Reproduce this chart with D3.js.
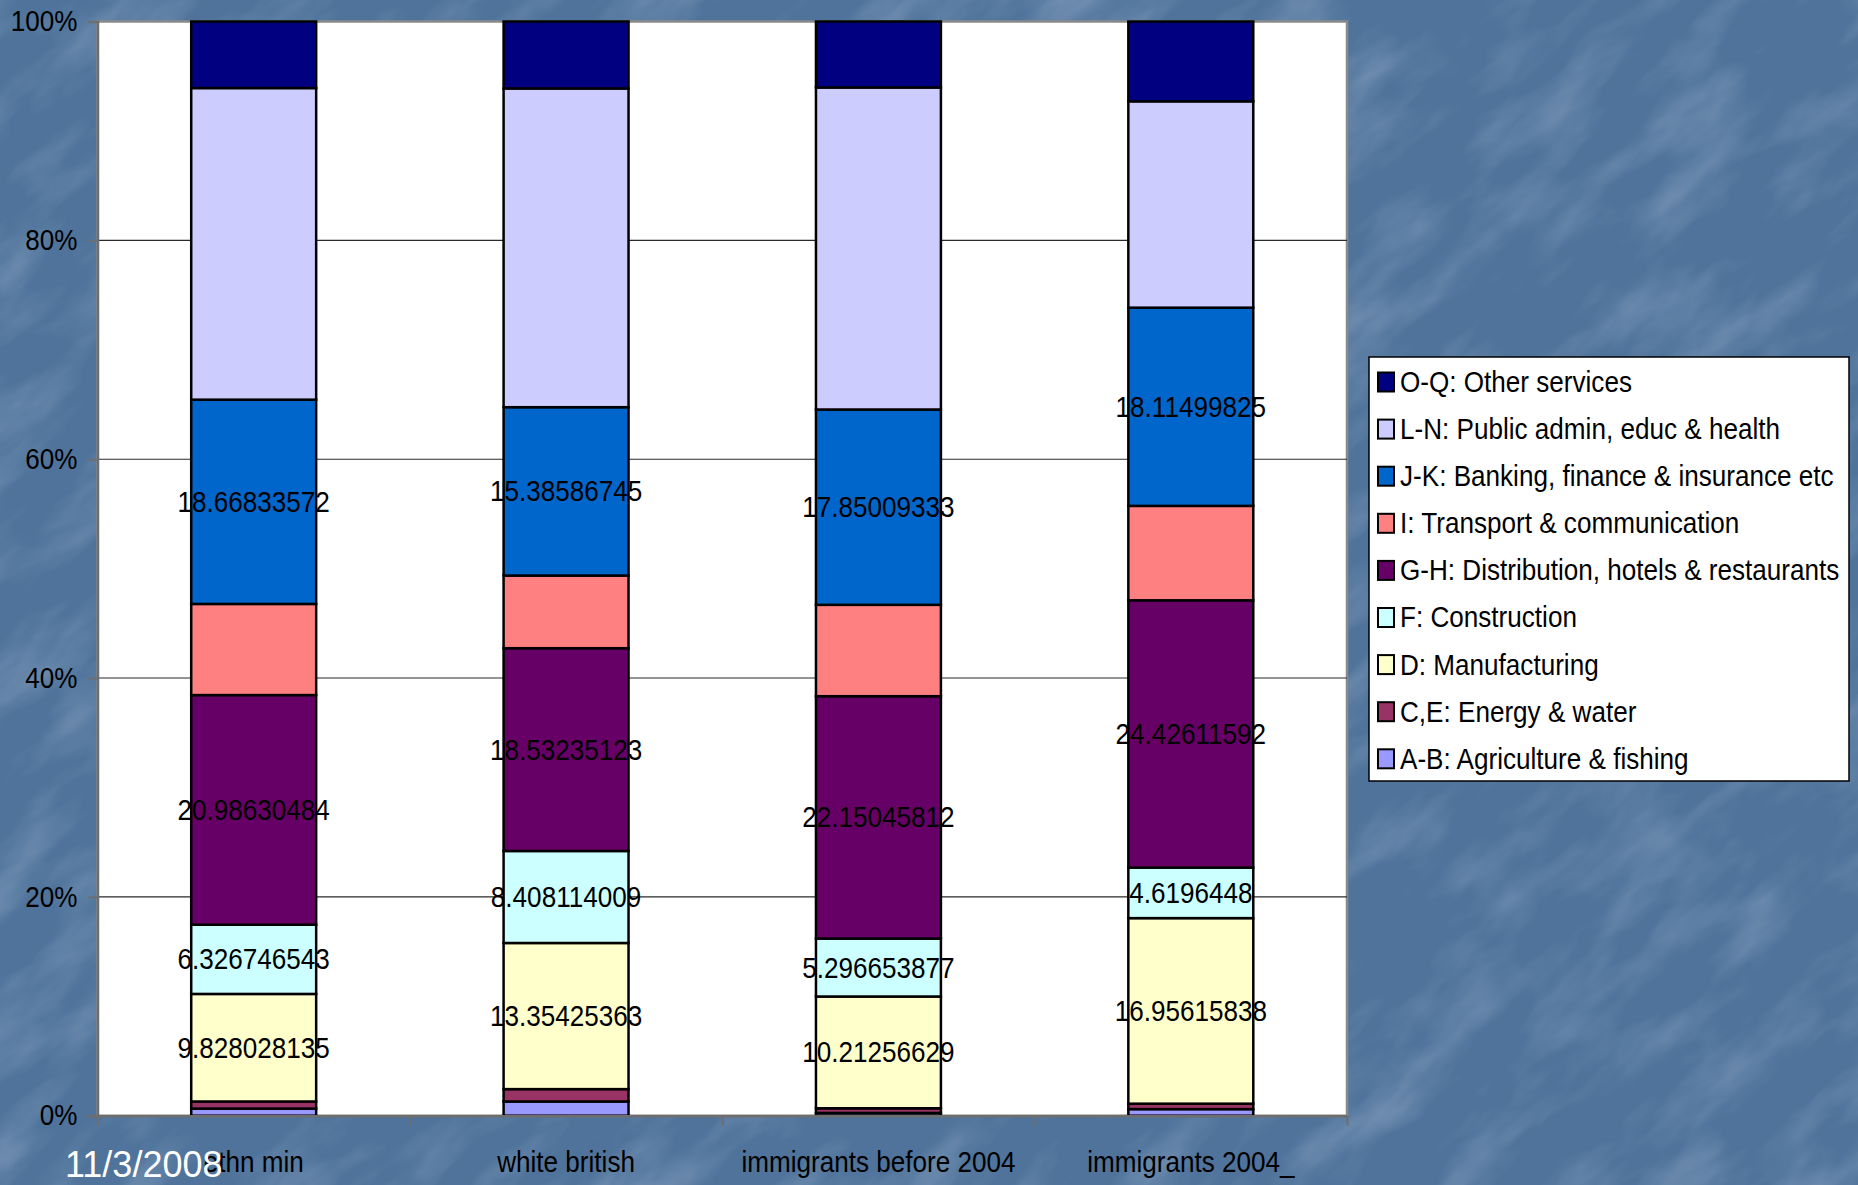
<!DOCTYPE html>
<html>
<head>
<meta charset="utf-8">
<script src="https://cdn.jsdelivr.net/npm/d3@7"></script>
<style>
  html, body { margin: 0; padding: 0; background: #50749c; }
  svg { display: block; }
  text { font-family: "Liberation Sans", Arial, sans-serif; }
</style>
</head>
<body>
<svg id="chart" width="1858" height="1185"></svg>
<script>
// ---- data -------------------------------------------------------------
const categories = ["ethn min", "white british", "immigrants before 2004", "immigrants 2004_"];

const sectors = [
  "A-B: Agriculture & fishing",
  "C,E: Energy & water",
  "D: Manufacturing",
  "F: Construction",
  "G-H: Distribution, hotels & restaurants",
  "I: Transport & communication",
  "J-K: Banking, finance & insurance etc",
  "L-N: Public admin, educ & health",
  "O-Q: Other services"
];

const sectorColors = ["#9999ff", "#993366", "#ffffcc", "#ccffff", "#660066",
                      "#ff8080", "#0066cc", "#ccccff", "#000080"];

// share of employment (%) in each group, one array per sector
const agriculture   = [0.65, 1.30, 0.25, 0.60];
const energy        = [0.65, 1.13, 0.43, 0.50];
const manufacturing = [9.828028135, 13.35425363, 10.21256629, 16.95615838];
const construction  = [6.326746543, 8.408114009, 5.296653877, 4.6196448];
const distribution  = [20.98630484, 18.53235123, 22.15045812, 24.42611592];
const transport     = [8.33, 6.64, 8.35, 8.63];
const banking       = [18.66833572, 15.38586745, 17.85009333, 18.11499825];
const publicAdmin   = [28.48, 29.13, 29.43, 18.86];
const otherServices = [6.08, 6.12, 6.03, 7.29];

const sectorValues = [agriculture, energy, manufacturing, construction, distribution,
                      transport, banking, publicAdmin, otherServices];

// sectors whose segments carry a value label
const labelledSectors = ["D: Manufacturing", "F: Construction",
                         "G-H: Distribution, hotels & restaurants",
                         "J-K: Banking, finance & insurance etc"];

const yTicks = [0, 20, 40, 60, 80, 100];
const dateText = "11/3/2008";

// ---- layout -----------------------------------------------------------
const W = 1858, H = 1185;
const plot = { left: 97.5, right: 1347, top: 21.5, bottom: 1115.7 };
const FONT = 29;      // chart text size
const SX = 0.9;       // chart text is set slightly condensed

const svg = d3.select("#chart");

// textured slide background
const defs = svg.append("defs");
const stone = defs.append("filter").attr("id", "stone")
  .attr("filterUnits", "userSpaceOnUse")
  .attr("x", -900).attr("y", -900).attr("width", 3700).attr("height", 3000);
stone.append("feTurbulence").attr("type", "fractalNoise")
  .attr("baseFrequency", "0.008 0.02").attr("numOctaves", 4).attr("seed", 11)
  .attr("result", "noise");
stone.append("feColorMatrix").attr("in", "noise").attr("type", "matrix")
  .attr("values", "0 0 0 0 0.86  0 0 0 0 0.92  0 0 0 0 1  1.2 0 0 0 -0.52");

svg.append("rect").attr("width", W).attr("height", H).attr("fill", "#4f739b");
svg.append("g")
  .attr("transform", `rotate(-40 ${W / 2} ${H / 2})`)
  .append("rect")
  .attr("x", -900).attr("y", -900).attr("width", 3700).attr("height", 3000)
  .attr("fill", "#fff")
  .attr("filter", "url(#stone)")
  .attr("opacity", 0.36);

// scales
const x = d3.scaleBand()
  .domain(categories)
  .range([plot.left, plot.right])
  .paddingInner(0.6)
  .paddingOuter(0.3);

const y = d3.scaleLinear().domain([0, 100]).range([plot.bottom, plot.top]);

// plot area
svg.append("rect")
  .attr("x", plot.left).attr("y", plot.top)
  .attr("width", plot.right - plot.left).attr("height", plot.bottom - plot.top)
  .attr("fill", "#ffffff")
  .attr("stroke", "#8a8a8a").attr("stroke-width", 2.5);

// gridlines
svg.append("g").selectAll("line")
  .data(yTicks.filter(t => t > 0 && t < 100))
  .join("line")
  .attr("x1", plot.left).attr("x2", plot.right)
  .attr("y1", d => y(d)).attr("y2", d => y(d))
  .attr("stroke", "#2a2a2a").attr("stroke-width", 1.1);

// stacked bars
const rows = categories.map((c, i) => {
  const r = { category: c };
  sectors.forEach((s, k) => { r[s] = sectorValues[k][i]; });
  return r;
});

const stacked = d3.stack().keys(sectors)(rows);
const color = d3.scaleOrdinal().domain(sectors).range(sectorColors);

const layers = svg.append("g").selectAll("g")
  .data(stacked)
  .join("g")
  .attr("fill", d => color(d.key));

layers.selectAll("rect")
  .data(d => d)
  .join("rect")
  .attr("x", d => x(d.data.category))
  .attr("width", x.bandwidth())
  .attr("y", d => y(d[1]))
  .attr("height", d => y(d[0]) - y(d[1]))
  .attr("stroke", "#000")
  .attr("stroke-width", 2.5);

// value labels
const labelGroup = svg.append("g");
stacked.filter(s => labelledSectors.includes(s.key)).forEach(s => {
  labelGroup.selectAll(null)
    .data(s)
    .join("text")
    .attr("transform", d =>
      `translate(${x(d.data.category) + x.bandwidth() / 2},${(y(d[0]) + y(d[1])) / 2}) scale(${SX},1)`)
    .attr("text-anchor", "middle")
    .attr("dominant-baseline", "central")
    .attr("font-size", FONT)
    .attr("fill", "#000")
    .text(d => String(d.data[s.key]));
});

// y axis
const yAxis = svg.append("g")
  .attr("transform", `translate(${plot.left},0)`)
  .call(d3.axisLeft(y).tickValues(yTicks).tickFormat(d => d + "%")
    .tickSize(9).tickPadding(11));
yAxis.select(".domain").attr("stroke", "#6e6e6e").attr("stroke-width", 2.5);
yAxis.selectAll(".tick line").attr("stroke", "#6e6e6e").attr("stroke-width", 2);
yAxis.selectAll(".tick text")
  .attr("x", -20 / SX)
  .attr("transform", `scale(${SX},1)`)
  .attr("font-size", FONT).attr("fill", "#000")
  .style("font-family", "\"Liberation Sans\", Arial, sans-serif");

// x axis: boundary ticks between categories
const bounds = d3.range(categories.length + 1);
const xb = d3.scaleLinear()
  .domain([0, categories.length])
  .range([plot.left, plot.right]);
const xAxisTicks = svg.append("g")
  .attr("transform", `translate(0,${plot.bottom})`)
  .call(d3.axisBottom(xb).tickValues(bounds).tickFormat("").tickSize(10).tickSizeOuter(0));
xAxisTicks.select(".domain").attr("stroke", "#6e6e6e").attr("stroke-width", 2.5);
xAxisTicks.selectAll(".tick line").attr("stroke", "#6e6e6e").attr("stroke-width", 2);

// x axis: category names
const xAxis = svg.append("g")
  .attr("transform", `translate(0,${plot.bottom})`)
  .call(d3.axisBottom(x).tickSize(0).tickPadding(36));
xAxis.select(".domain").remove();
xAxis.selectAll(".tick text")
  .attr("transform", `scale(${SX},1)`)
  .attr("font-size", FONT).attr("fill", "#000")
  .style("font-family", "\"Liberation Sans\", Arial, sans-serif");

// legend
const legend = { x: 1369, y: 357, w: 480, h: 424, row0: 382, rowStep: 47.1 };
const lg = svg.append("g");
lg.append("rect")
  .attr("x", legend.x).attr("y", legend.y)
  .attr("width", legend.w).attr("height", legend.h)
  .attr("fill", "#fff").attr("stroke", "#000").attr("stroke-width", 1.5);

const legendItems = sectors.slice().reverse();
const items = lg.selectAll("g.item")
  .data(legendItems)
  .join("g")
  .attr("class", "item")
  .attr("transform", (d, i) => `translate(${legend.x + 9},${legend.row0 + i * legend.rowStep})`);

items.append("rect")
  .attr("x", 0).attr("y", -9.5)
  .attr("width", 16).attr("height", 19)
  .attr("fill", d => color(d))
  .attr("stroke", "#000").attr("stroke-width", 2);

items.append("text")
  .attr("transform", `translate(22,0) scale(${SX},1)`)
  .attr("dominant-baseline", "central")
  .attr("font-size", FONT)
  .attr("fill", "#000")
  .text(d => d);

// slide date footer
svg.append("text")
  .attr("x", 65).attr("y", 1177)
  .attr("font-size", 36)
  .attr("fill", "#ffffff")
  .text(dateText);
</script>
</body>
</html>
